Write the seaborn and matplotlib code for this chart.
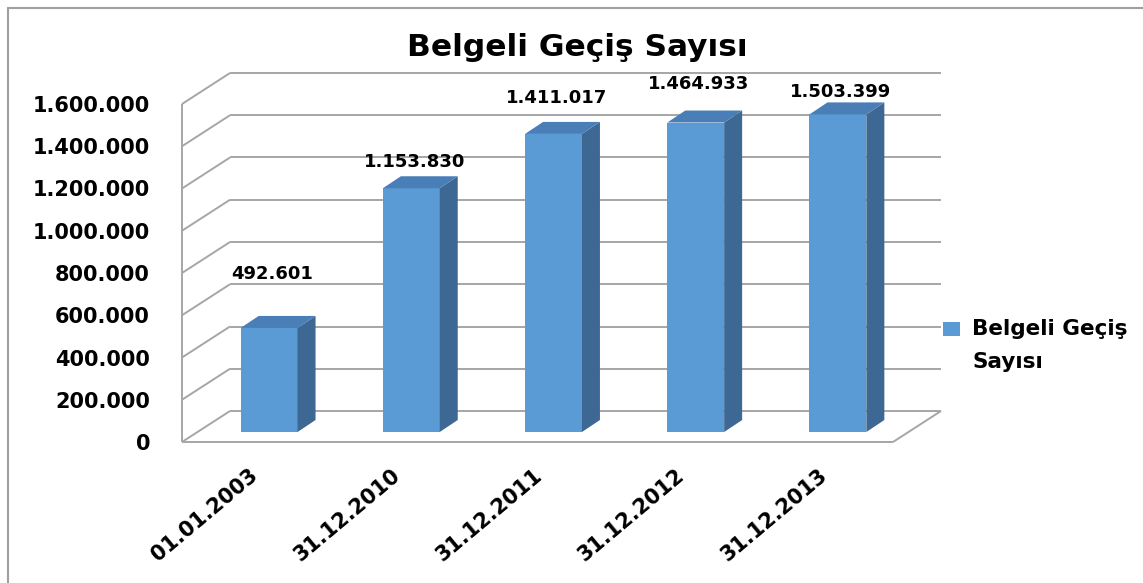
import numpy as np
import pandas as pd
import matplotlib
matplotlib.use("Agg")
import matplotlib.pyplot as plt
import seaborn as sns
from matplotlib.patches import Polygon, Rectangle
from matplotlib.lines import Line2D
from matplotlib.transforms import ScaledTranslation, IdentityTransform

# ---------------- data ----------------
dates = ["01.01.2003", "31.12.2010", "31.12.2011", "31.12.2012", "31.12.2013"]
counts = [492601, 1153830, 1411017, 1464933, 1503399]
series_name = "Belgeli Geçiş\nSayısı"
chart_title = "Belgeli Geçiş Sayısı"
y_ticks = [0, 200000, 400000, 600000, 800000, 1000000, 1200000, 1400000, 1600000]

# ---------------- layout / style ----------------
label_lift_px = [54, 26, 36, 39, 22]   # data-label height above each bar top (px)
FRONT = "#5B9BD5"
SIDE = "#3C6893"
TOP = "#4A7EB6"
GRID = "#A6A6A6"
FRONT_OFF = np.array([-16.0, -10.0])   # front plane relative to bar plane (px)
BACK_OFF = np.array([32.0, 21.0])      # back wall relative to bar plane (px)
DEPTH = np.array([18.0, 12.0])         # bar depth (px)

sns.set_theme(style="white")
plt.rcParams["font.family"] = ["DejaVu Sans"]
plt.rcParams["text.color"] = "black"

W, H = 1143, 583
fig = plt.figure(figsize=(W / 100, H / 100), dpi=100)
fig.patch.set_facecolor("white")
ax = fig.add_axes([198 / W, (H - 432) / H, 711 / W, 338 / H])
ax.patch.set_visible(False)

df = pd.DataFrame({"date": dates, "count": counts})
sns.barplot(data=df, x="date", y="count", color=FRONT, saturation=1,
            width=0.4, ax=ax, zorder=3, linewidth=0)
ax.set_xlim(-0.5, len(dates) - 0.5)
ax.set_ylim(y_ticks[0], y_ticks[-1])
ax.set_xlabel("")
ax.set_ylabel("")
for s in ax.spines.values():
    s.set_visible(False)

T = ax.transData
x_lo, x_hi = ax.get_xlim()


def P(x, y, off=(0, 0)):
    return T.transform((x, y)) + np.asarray(off)


def seg(p1, p2, z=1):
    ln = Line2D([p1[0], p2[0]], [p1[1], p2[1]], transform=IdentityTransform(),
                color=GRID, lw=1.4, zorder=z, clip_on=False, solid_capstyle="butt")
    ax.add_line(ln)


# walls & grid
for v in y_ticks:
    seg(P(x_lo, v, FRONT_OFF), P(x_lo, v, BACK_OFF))       # left wall diagonals
    seg(P(x_lo, v, BACK_OFF), P(x_hi, v, BACK_OFF))        # back wall horizontals
seg(P(x_lo, 0, FRONT_OFF), P(x_lo, y_ticks[-1], FRONT_OFF))  # front-left axis
seg(P(x_lo, 0, FRONT_OFF), P(x_hi, 0, FRONT_OFF))            # floor front edge
seg(P(x_hi, 0, FRONT_OFF), P(x_hi, 0, BACK_OFF))             # floor right edge

# 3D faces of bars
bars = list(ax.patches)
for p in bars:
    x0, w, h = p.get_x(), p.get_width(), p.get_height()
    side = [P(x0 + w, 0), P(x0 + w, h), P(x0 + w, h, DEPTH), P(x0 + w, 0, DEPTH)]
    top = [P(x0, h), P(x0 + w, h), P(x0 + w, h, DEPTH), P(x0, h, DEPTH)]
    for verts, col in ((side, SIDE), (top, TOP)):
        ax.add_patch(Polygon(verts, closed=True, facecolor=col, edgecolor="none",
                             transform=IdentityTransform(), zorder=3, clip_on=False))

# data labels
for p, v, lift in zip(bars, counts, label_lift_px):
    ax.annotate(f"{v:,}".replace(",", "."), xy=(p.get_x() + p.get_width() / 2, v),
                xytext=(3, lift), textcoords="offset pixels", ha="center", va="center",
                fontsize=13, fontweight="bold", color="black", zorder=5,
                annotation_clip=False)

# y axis labels (on the front plane)
ax.set_yticks(y_ticks)
ax.set_yticklabels([f"{v:,}".replace(",", ".") for v in y_ticks],
                   fontsize=15, fontweight="bold", color="black")
ax.tick_params(axis="y", length=0, pad=34.5)
for lbl in ax.get_yticklabels():
    lbl.set_transform(lbl.get_transform() + ScaledTranslation(0, -0.10, fig.dpi_scale_trans))

# x axis labels
ax.set_xticks(range(len(dates)))
ax.set_xticklabels(dates, fontsize=15, fontweight="bold", color="black")
ax.tick_params(axis="x", length=0, pad=24)
for lbl in ax.get_xticklabels():
    lbl.set_rotation(40)
    lbl.set_ha("right")
    lbl.set_rotation_mode("anchor")
    lbl.set_transform(lbl.get_transform() + ScaledTranslation(-0.20, 0, fig.dpi_scale_trans))

# title
fig.text(577 / W, 1 - 48 / H, chart_title, ha="center", va="center",
         fontsize=22.5, fontweight="bold", color="black")

# legend (square key aligned with the first line of the series name)
fig.add_artist(Rectangle((943 / W, 1 - 336 / H), 17 / W, 14 / H, transform=fig.transFigure,
                         facecolor=FRONT, edgecolor="none"))
for i, line in enumerate(series_name.split("\n")):
    fig.text(972 / W, 1 - (329 + 33 * i) / H, line, ha="left", va="center",
             fontsize=15.5, fontweight="bold", color="black")

# chart-area border (left and top)
fig.add_artist(Line2D([8 / W, 8 / W], [0, 1 - 8 / H], transform=fig.transFigure,
                      color="#A0A0A0", lw=1.5))
fig.add_artist(Line2D([8 / W, 1], [1 - 8 / H, 1 - 8 / H], transform=fig.transFigure,
                      color="#A0A0A0", lw=1.5))

fig.savefig("out.png", dpi=100, facecolor="white")
